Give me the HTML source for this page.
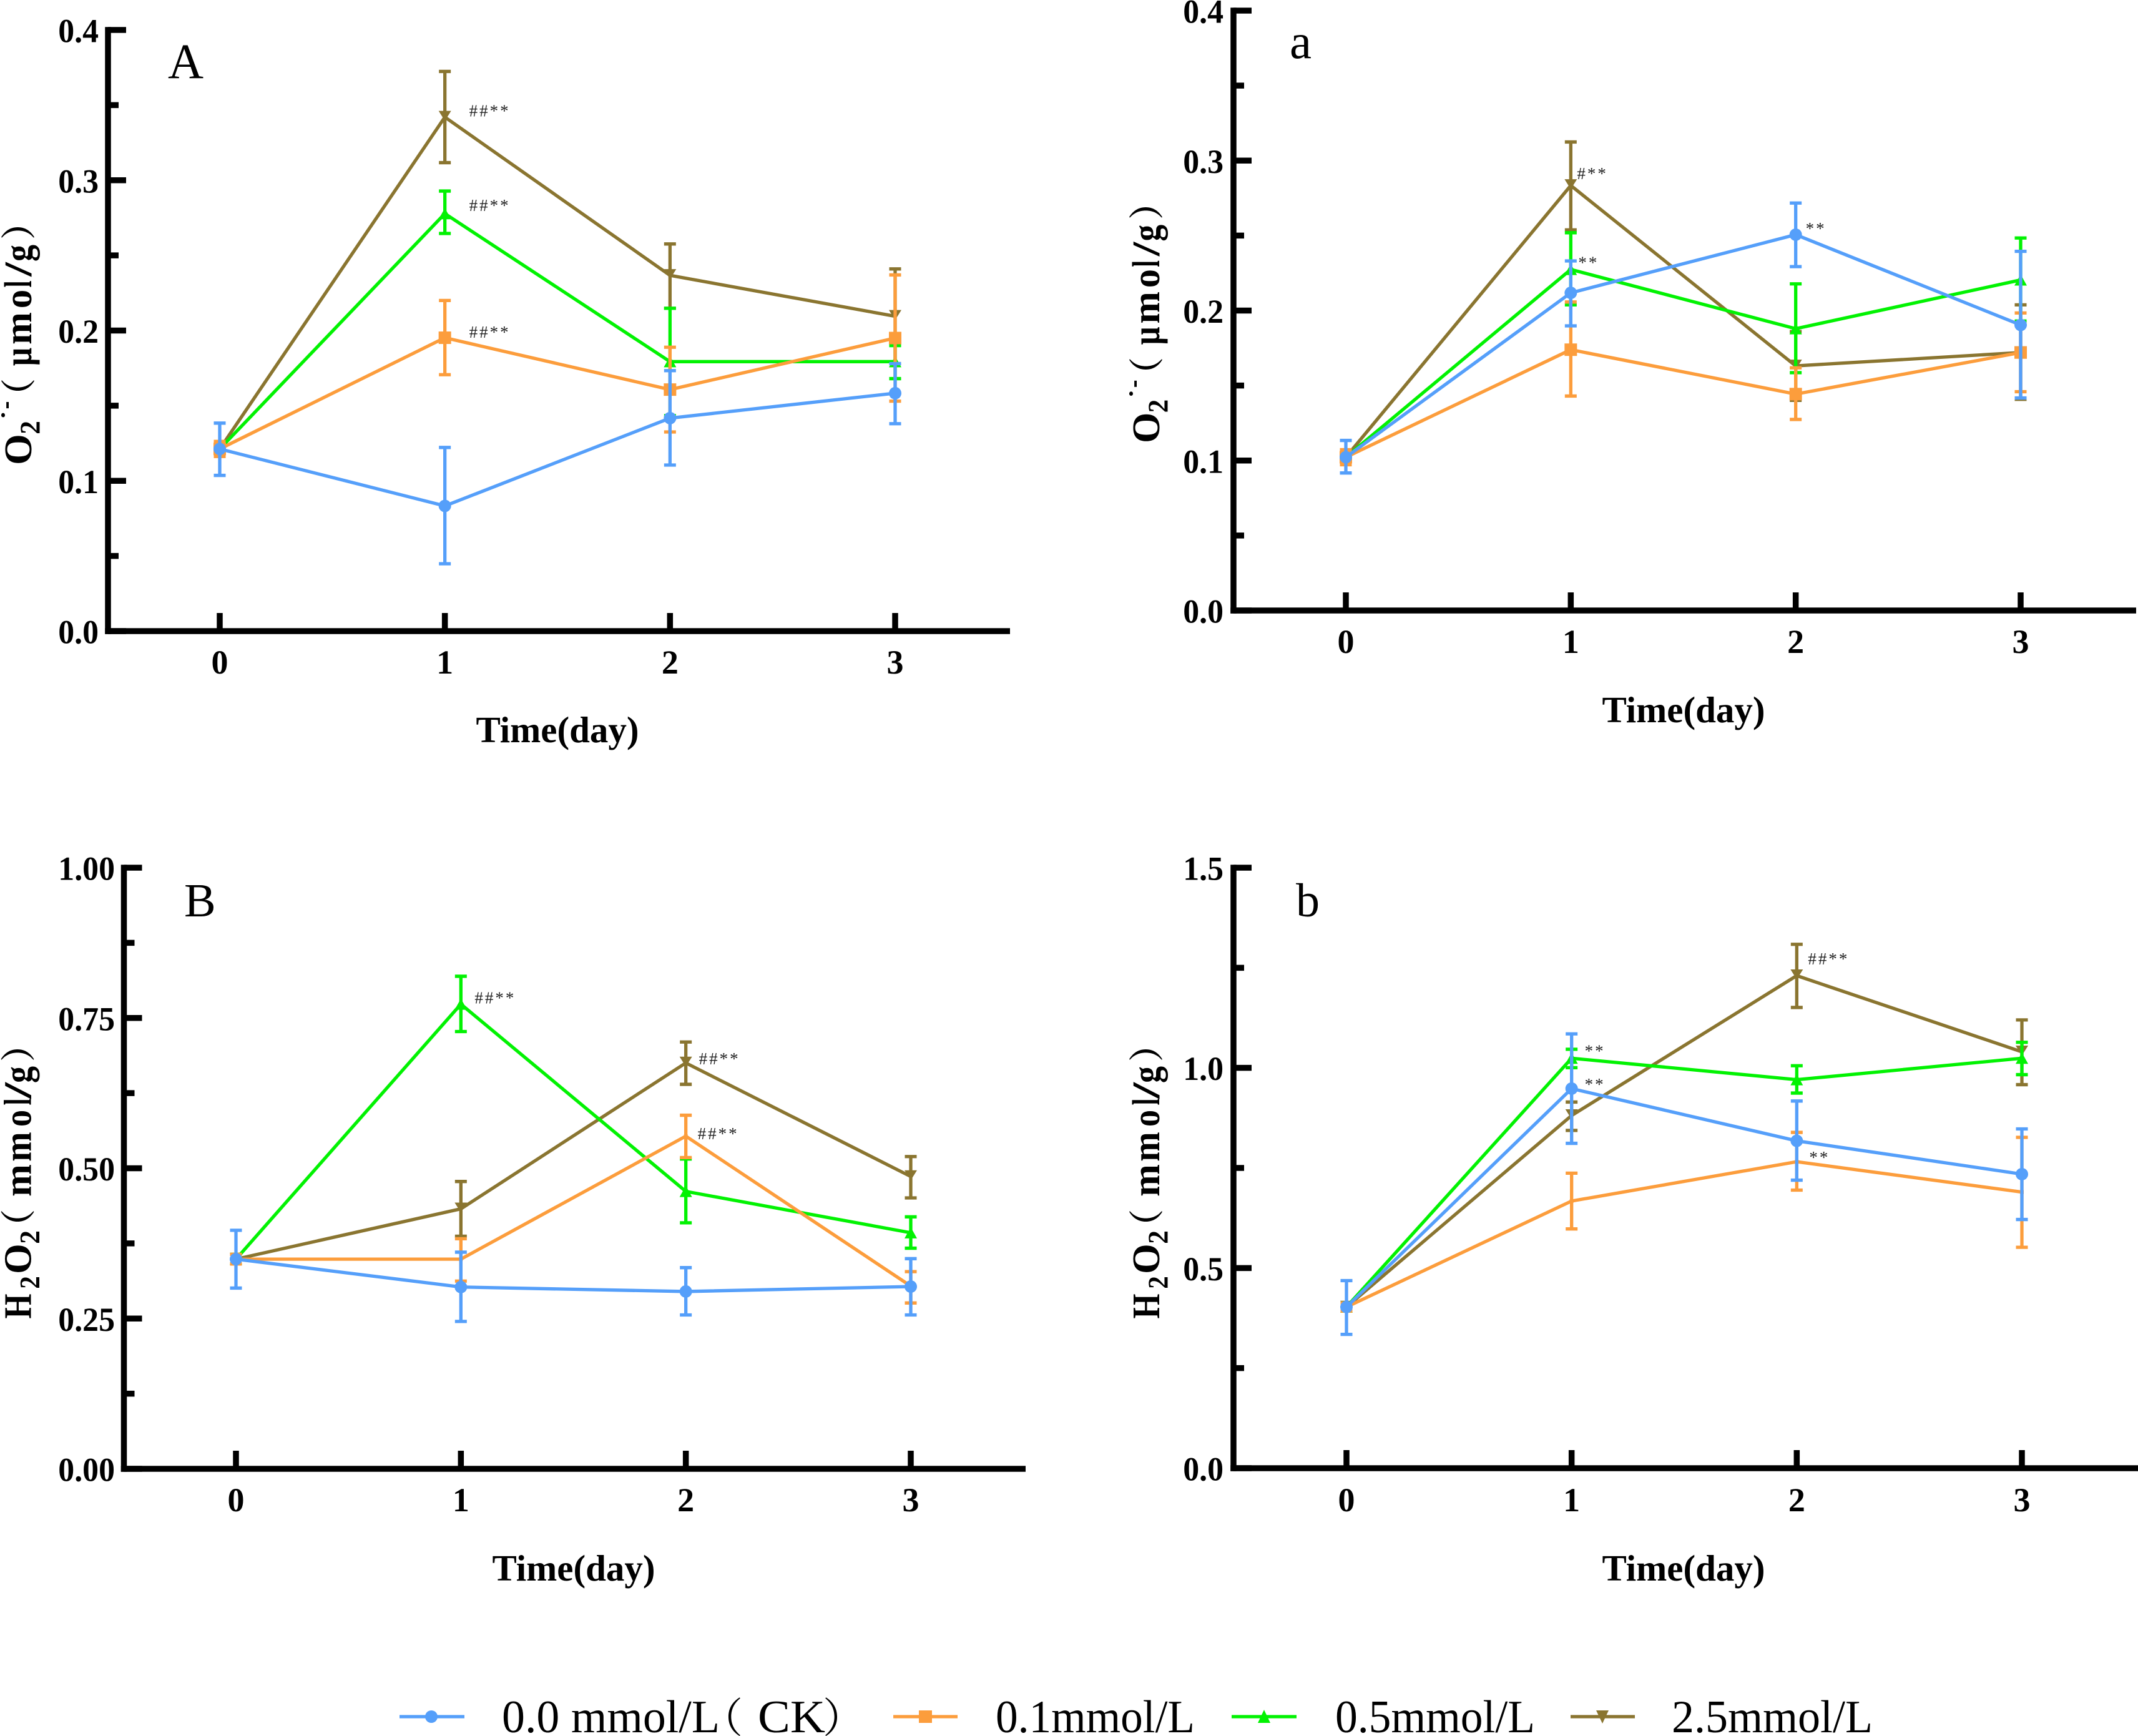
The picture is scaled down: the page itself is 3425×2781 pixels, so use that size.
<!DOCTYPE html>
<html lang="en">
<head>
<meta charset="utf-8">
<title>Time course of superoxide and hydrogen peroxide</title>
<style>
html,body{margin:0;padding:0;background:#fff;}
svg{display:block;}
text{font-family:"Liberation Serif","Noto Serif CJK SC",serif;fill:#000;}
</style>
</head>
<body>
<svg id="figure" xmlns="http://www.w3.org/2000/svg" width="3425" height="2781" viewBox="0 0 3425 2781">
<rect width="3425" height="2781" fill="#fff"/>
<g id="panels"></g>
<g>
  <g>
    <line x1="640" y1="2750" x2="744" y2="2750" stroke="#559ffa" stroke-width="5.3"/>
    <circle cx="691" cy="2750" r="10" fill="#559ffa"/>
    <text x="804" y="2775" font-size="74" textLength="349" lengthAdjust="spacingAndGlyphs">0.0 mmol/L</text>
    <text x="1124" y="2775" font-size="66">（</text>
    <text x="1214" y="2775" font-size="74" textLength="108" lengthAdjust="spacingAndGlyphs">CK</text>
    <text x="1318" y="2775" font-size="66">）</text>
  </g>
  <g>
    <line x1="1431" y1="2750" x2="1534" y2="2750" stroke="#fc9d3c" stroke-width="5.3"/>
    <rect x="1472" y="2740" width="21" height="20" fill="#fc9d3c"/>
    <text x="1595" y="2775" font-size="74" textLength="319" lengthAdjust="spacingAndGlyphs">0.1mmol/L</text>
  </g>
  <g>
    <line x1="1973" y1="2750" x2="2077" y2="2750" stroke="#02f202" stroke-width="5.3"/>
    <polygon points="2015,2760 2035,2760 2025,2739" fill="#02f202"/>
    <text x="2139" y="2775" font-size="74" textLength="320" lengthAdjust="spacingAndGlyphs">0.5mmol/L</text>
  </g>
  <g>
    <line x1="2516" y1="2750" x2="2619" y2="2750" stroke="#8a7530" stroke-width="5.3"/>
    <polygon points="2557,2740 2577,2740 2567,2761" fill="#8a7530"/>
    <text x="2678" y="2775" font-size="74" textLength="322" lengthAdjust="spacingAndGlyphs">2.5mmol/L</text>
  </g>
</g>
</svg>
<script>
// Shared categories
const days = [0, 1, 2, 3];

// Panel A: O2 radical, series means and error-bar limits
const aCkMean = [0.1212, 0.0833, 0.1417, 0.1583];
const aCkHigh = [0.1384, 0.1222, 0.1733, 0.1780];
const aCkLow = [0.1036, 0.0448, 0.1105, 0.1380];
const aLowMean = [0.1212, 0.1952, 0.1607, 0.1950];
const aLowHigh = [0.1262, 0.2200, 0.1889, 0.2370];
const aLowLow = [0.1162, 0.1706, 0.1325, 0.1530];
const aMidMean = [0.1212, 0.2778, 0.1793, 0.1793];
const aMidHigh = [0.1242, 0.2928, 0.2148, 0.1900];
const aMidLow = [0.1182, 0.2646, 0.1434, 0.1680];
const aHighMean = [0.1212, 0.3420, 0.2367, 0.2095];
const aHighHigh = [0.1242, 0.3724, 0.2576, 0.2410];
const aHighLow = [0.1182, 0.3117, 0.2148, 0.1780];
const aYMajor = [0, 0.1, 0.2, 0.3, 0.4];
const aYMinor = [0.05, 0.15, 0.25, 0.35];
const aYLabels = ['0.0', '0.1', '0.2', '0.3', '0.4'];

// Panel a: O2 radical
const bCkMean = [0.1022, 0.2118, 0.2506, 0.1904];
const bCkHigh = [0.1134, 0.2331, 0.2717, 0.2395];
const bCkLow = [0.0917, 0.1898, 0.2293, 0.1417];
const bLowMean = [0.1022, 0.1739, 0.1443, 0.1720];
const bLowHigh = [0.1072, 0.2057, 0.1618, 0.1984];
const bLowLow = [0.0972, 0.1430, 0.1274, 0.1459];
const bMidMean = [0.1022, 0.2274, 0.1879, 0.2204];
const bMidHigh = [0.1052, 0.2519, 0.2178, 0.2484];
const bMidLow = [0.0992, 0.2038, 0.1586, 0.1930];
const bHighMean = [0.1022, 0.2834, 0.1631, 0.1720];
const bHighHigh = [0.1052, 0.3124, 0.1860, 0.2038];
const bHighLow = [0.0992, 0.2538, 0.1401, 0.1408];
const bYMajor = [0, 0.1, 0.2, 0.3, 0.4];
const bYMinor = [0.05, 0.15, 0.25, 0.35];
const bYLabels = ['0.0', '0.1', '0.2', '0.3', '0.4'];

// Panel B: H2O2
const cCkMean = [0.3488, 0.3024, 0.2950, 0.3032];
const cCkHigh = [0.3968, 0.3604, 0.3347, 0.3496];
const cCkLow = [0.3007, 0.2452, 0.2560, 0.2560];
const cLowMean = [0.3488, 0.3488, 0.5534, 0.3040];
const cLowHigh = [0.3568, 0.3828, 0.5882, 0.3280];
const cLowLow = [0.3408, 0.3123, 0.5178, 0.2759];
const cMidMean = [0.3488, 0.7730, 0.4615, 0.3927];
const cMidHigh = [0.3568, 0.8194, 0.5153, 0.4192];
const cMidLow = [0.3408, 0.7274, 0.4093, 0.3670];
const cHighMean = [0.3488, 0.4325, 0.6752, 0.4863];
const cHighHigh = [0.3568, 0.4780, 0.7100, 0.5195];
const cHighLow = [0.3408, 0.3869, 0.6396, 0.4507];
const cYMajor = [0, 0.25, 0.5, 0.75, 1];
const cYMinor = [0.125, 0.375, 0.625, 0.875];
const cYLabels = ['0.00', '0.25', '0.50', '0.75', '1.00'];

// Panel b: H2O2
const dCkMean = [0.4026, 0.9482, 0.8177, 0.7345];
const dCkHigh = [0.4685, 1.0849, 0.9171, 0.8475];
const dCkLow = [0.3343, 0.8115, 0.7195, 0.6213];
const dLowMean = [0.4026, 0.6673, 0.7655, 0.6897];
const dLowHigh = [0.4126, 0.7369, 0.8388, 0.8264];
const dLowLow = [0.3926, 0.5977, 0.6947, 0.5518];
const dMidMean = [0.4026, 1.0240, 0.9705, 1.0240];
const dMidHigh = [0.4126, 1.0464, 1.0053, 1.0638];
const dMidLow = [0.3926, 1.0004, 0.9370, 0.9830];
const dHighMean = [0.4026, 0.8810, 1.2303, 1.0401];
const dHighHigh = [0.4126, 0.9146, 1.3086, 1.1197];
const dHighLow = [0.3926, 0.8438, 1.1508, 0.9581];
const dYMajor = [0, 0.5, 1, 1.5];
const dYMinor = [0.25, 0.75, 1.25];
const dYLabels = ['0.0', '0.5', '1.0', '1.5'];

const xLabels = ['0', '1', '2', '3'];

const SVGNS = 'http://www.w3.org/2000/svg';
const root = document.getElementById('panels');

function make(parent, tag, attrs) {
  const node = document.createElementNS(SVGNS, tag);
  for (const k in attrs) node.setAttribute(k, attrs[k]);
  parent.appendChild(node);
  return node;
}

const COLORS = { ck: '#559ffa', low: '#fc9d3c', mid: '#02f202', high: '#8a7530' };

// Layout of the rotated y-axis titles: glyph run, ink start, ink end, size, baseline shift
const O2_TITLE = [
  ['O', 3, 49, 62, 0], ['2', 51, 71, 46, 13.5], ['˙', 74, 88, 40, -20], ['-', 91, 103, 46, -27],
  ['（', 84, 0, 56, 0], ['μ', 161, 188, 62, 0], ['m', 196, 244, 62, 0], ['o', 253, 281, 62, 0],
  ['l', 286, 296, 62, 0], ['/', 304, 325, 62, 0], ['g', 328, 353, 62, 0], ['）', 362, 0, 56, 0]
];
const H2_TITLE = [
  ['H', 0, 37, 62, 0], ['2', 47, 66, 46, 13.5], ['O', 72, 117, 62, 0], ['2', 119, 139, 46, 13.5],
  ['（', 118, 0, 56, 0], ['m', 196, 244, 62, 0], ['m', 252, 296, 62, 0], ['o', 307, 332, 62, 0],
  ['l', 341, 351, 62, 0], ['/', 352, 376, 62, 0], ['g', 377, 402, 62, 0], ['）', 410, 0, 56, 0]
];

const panels = [
  { id: 'A', letter: 'A', letterX: 269, letterY: 125, letterSize: 79,
    axisX: 173, axisEnd: 1618, y0: 1011, yTop: 48, yMax: 0.4,
    x0: 352, x3: 1434, xLabelY: 1079, xTitleX: 893, xTitleY: 1189,
    yLabelX: 158, major: aYMajor, minor: aYMinor, labels: aYLabels, scaleX: 0.96,
    titleX: 50, titleY: 746, titleScale: 1, title: O2_TITLE,
    ck: [aCkMean, aCkHigh, aCkLow], low: [aLowMean, aLowHigh, aLowLow], mid: [aMidMean, aMidHigh, aMidLow], high: [aHighMean, aHighHigh, aHighLow],
    lowScale: 1,
    notes: [ ['high', 1, '##**', 39, -1], ['mid', 1, '##**', 39, -4], ['low', 1, '##**', 39, 0] ] },
  { id: 'a', letter: 'a', letterX: 2066, letterY: 93, letterSize: 79,
    axisX: 1976, axisEnd: 3422, y0: 978, yTop: 17, yMax: 0.4,
    x0: 2156, x3: 3237, xLabelY: 1046, xTitleX: 2697, xTitleY: 1157,
    yLabelX: 1960, major: bYMajor, minor: bYMinor, labels: bYLabels, scaleX: 0.96,
    titleX: 1857, titleY: 711, titleScale: 0.992, title: O2_TITLE,
    ck: [bCkMean, bCkHigh, bCkLow], low: [bLowMean, bLowHigh, bLowLow], mid: [bMidMean, bMidHigh, bMidLow], high: [bHighMean, bHighHigh, bHighLow],
    lowScale: 1,
    notes: [ ['high', 1, '#**', 10, -10], ['mid', 1, '**', 12, -2], ['ck', 2, '**', 16, -1] ] },
  { id: 'B', letter: 'B', letterX: 295, letterY: 1468, letterSize: 76,
    axisX: 198.5, axisEnd: 1643, y0: 2353, yTop: 1390, yMax: 1,
    x0: 378, x3: 1459, xLabelY: 2421, xTitleX: 919, xTitleY: 2532,
    yLabelX: 184, major: cYMajor, minor: cYMinor, labels: cYLabels, scaleX: 0.96,
    titleX: 49.5, titleY: 2111, titleScale: 1, title: H2_TITLE,
    ck: [cCkMean, cCkHigh, cCkLow], low: [cLowMean, cLowHigh, cLowLow], mid: [cMidMean, cMidHigh, cMidLow], high: [cHighMean, cHighHigh, cHighLow],
    lowScale: 0.3,
    notes: [ ['mid', 1, '##**', 22, -1], ['high', 2, '##**', 21, 2], ['low', 2, '##**', 19, 5] ] },
  { id: 'b', letter: 'b', letterX: 2076, letterY: 1468, letterSize: 76,
    axisX: 1976, axisEnd: 3425, y0: 2352, yTop: 1390, yMax: 1.5,
    x0: 2157, x3: 3239, xLabelY: 2421, xTitleX: 2697, xTitleY: 2532,
    yLabelX: 1960, major: dYMajor, minor: dYMinor, labels: dYLabels, scaleX: 0.96,
    titleX: 1857, titleY: 2111, titleScale: 1, title: H2_TITLE,
    ck: [dCkMean, dCkHigh, dCkLow], low: [dLowMean, dLowHigh, dLowLow], mid: [dMidMean, dMidHigh, dMidLow], high: [dHighMean, dHighHigh, dHighLow],
    lowScale: 0.3,
    notes: [ ['mid', 1, '**', 21, -3], ['ck', 1, '**', 21, 2], ['high', 2, '##**', 18, -18], ['low', 2, '**', 20, 2] ] }
];

const AXIS_W = 9.5;
const TICK_W = 9.5;
const LINE_W = 5.3;
const CAP_HALF = 9.5;
const R = 10;

function drawMarker(group, key, px, py, scale) {
  const s = scale;
  const c = COLORS[key];
  let m;
  if (key === 'ck') {
    m = make(group, 'circle', { cx: px, cy: py, r: R * s, fill: c });
  } else if (key === 'low') {
    m = make(group, 'rect', { x: px - R * s, y: py - R * s, width: 2 * R * s, height: 2 * R * s, fill: c });
  } else if (key === 'mid') {
    m = make(group, 'polygon', { points: (px - R * s) + ',' + (py + 9 * s) + ' ' + (px + R * s) + ',' + (py + 9 * s) + ' ' + px + ',' + (py - 9 * s), fill: c });
  } else {
    m = make(group, 'polygon', { points: (px - R * s) + ',' + (py - 10 * s) + ' ' + (px + R * s) + ',' + (py - 10 * s) + ' ' + px + ',' + (py + 6 * s), fill: c });
  }
  
  
}

panels.forEach(function (p) {
  const xScale = function (d) { return p.x0 + (p.x3 - p.x0) * d / 3; };
  const yScale = function (v) { return p.y0 - (p.y0 - p.yTop) * v / p.yMax; };

  const g = make(root, 'g', {});
  
  

  // Series, drawn so the control series ends on top
  ['high', 'mid', 'low', 'ck'].forEach(function (key) {
    const mean = p[key][0], hi = p[key][1], lo = p[key][2];
    const sg = make(g, 'g', {});
    
    
    const c = COLORS[key];
    days.forEach(function (d, i) {
      const px = xScale(d);
      const eg = make(sg, 'path', {
        d: 'M' + (px - CAP_HALF) + ' ' + yScale(hi[i]) + 'H' + (px + CAP_HALF) +
           'M' + px + ' ' + yScale(hi[i]) + 'V' + yScale(lo[i]) +
           'M' + (px - CAP_HALF) + ' ' + yScale(lo[i]) + 'H' + (px + CAP_HALF),
        stroke: c, 'stroke-width': LINE_W, fill: 'none'
      });
      
      
    });
    const line = make(sg, 'polyline', {
      points: days.map(function (d, i) { return xScale(d) + ',' + yScale(mean[i]); }).join(' '),
      fill: 'none', stroke: c, 'stroke-width': LINE_W, 'stroke-linejoin': 'miter'
    });
    
    
    days.forEach(function (d, i) {
      drawMarker(sg, key, xScale(d), yScale(mean[i]), key === 'low' ? p.lowScale : 1);
    });
  });

  // Y axis
  const yAxis = make(g, 'line', { x1: p.axisX, x2: p.axisX, y1: p.yTop - TICK_W / 2, y2: p.y0 + AXIS_W / 2, stroke: '#000', 'stroke-width': AXIS_W });
  
  
  p.major.forEach(function (v, i) {
    const t = make(g, 'line', { x1: p.axisX, x2: p.axisX + 29, y1: yScale(v), y2: yScale(v), stroke: '#000', 'stroke-width': TICK_W });
    
    
    const label = make(g, 'text', { transform: 'translate(' + p.yLabelX + ',' + (yScale(v) + 19.5) + ') scale(' + p.scaleX + ',1)', 'text-anchor': 'end', 'font-size': 54, 'font-weight': 'bold' });
    
    
    label.textContent = p.labels[i];
  });
  p.minor.forEach(function (v) {
    const t = make(g, 'line', { x1: p.axisX, x2: p.axisX + 17, y1: yScale(v), y2: yScale(v), stroke: '#000', 'stroke-width': TICK_W });
    
    
  });

  // X axis
  const xAxis = make(g, 'line', { x1: p.axisX - AXIS_W / 2, x2: p.axisEnd, y1: p.y0, y2: p.y0, stroke: '#000', 'stroke-width': AXIS_W });
  
  
  days.forEach(function (d, i) {
    const t = make(g, 'line', { x1: xScale(d), x2: xScale(d), y1: p.y0, y2: p.y0 - 29, stroke: '#000', 'stroke-width': TICK_W });
    
    
    const label = make(g, 'text', { x: xScale(d), y: p.xLabelY, 'text-anchor': 'middle', 'font-size': 54, 'font-weight': 'bold' });
    
    
    label.textContent = xLabels[i];
  });

  // Titles
  const xTitle = make(g, 'text', { x: p.xTitleX, y: p.xTitleY, 'text-anchor': 'middle', 'font-size': 59, 'font-weight': 'bold' });
  
  
  xTitle.textContent = 'Time(day)';

  const yTitle = make(g, 'g', { transform: 'translate(' + p.titleX + ',' + p.titleY + ') rotate(-90) scale(' + p.titleScale + ',1)' });
  
  
  p.title.forEach(function (part) {
    const attrs = { x: part[1], y: part[4], 'font-size': part[3], 'font-weight': 'bold' };
    if (part[2] > 0) {
      const ink = part[2] - part[1];
      attrs.x = part[1] - ink * 0.04;
      attrs.textLength = ink * 1.08;
      attrs.lengthAdjust = 'spacingAndGlyphs';
    }
    const glyph = make(yTitle, 'text', attrs);
    glyph.textContent = part[0];
  });

  const letter = make(g, 'text', { x: p.letterX, y: p.letterY, 'font-size': p.letterSize });
  
  
  letter.textContent = p.letter;

  // Significance marks, anchored to their data points
  p.notes.forEach(function (n) {
    const mean = p[n[0]][0];
    const note = make(g, 'text', { x: xScale(days[n[1]]) + n[3], y: yScale(mean[n[1]]) + n[4], 'font-size': 27, 'letter-spacing': 3 });
    
    
    note.style.fill = '#222';
    note.textContent = n[2];
  });
});
</script>
</body>
</html>
